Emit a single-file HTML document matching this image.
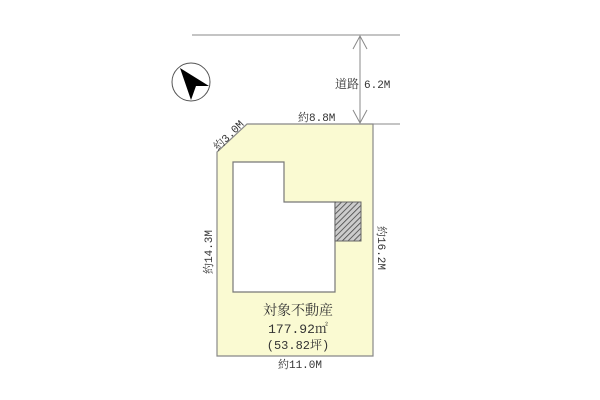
<!DOCTYPE html>
<html><head><meta charset="utf-8"><style>
html,body{margin:0;padding:0;background:#fff;width:600px;height:400px;overflow:hidden}
</style></head><body>
<svg width="600" height="400" xmlns="http://www.w3.org/2000/svg" font-family="'Liberation Mono','Noto Serif CJK SC',serif" fill="#333">
<defs><pattern id="h" width="4" height="4" patternUnits="userSpaceOnUse" patternTransform="rotate(45)"><rect width="4" height="4" fill="#ccc"/><line x1="0" y1="0" x2="0" y2="4" stroke="#444" stroke-width="1.6"/></pattern></defs>
<line x1="192" y1="35" x2="400" y2="35" stroke="#888" stroke-width="1"/>
<line x1="373" y1="124" x2="400" y2="124" stroke="#888" stroke-width="1"/>
<polygon points="247,124 373,124 373,356 217,356 217,152" fill="#fafad2" stroke="#888" stroke-width="1.2"/>
<polygon points="233,162 284,162 284,202 335,202 335,292 233,292" fill="#fff" stroke="#777" stroke-width="1.2"/>
<rect x="335" y="202" width="26" height="39" fill="url(#h)" stroke="#666" stroke-width="1"/>
<line x1="360" y1="36" x2="360" y2="123" stroke="#888" stroke-width="1"/>
<polyline points="353,49 360,36 367,49" fill="none" stroke="#888"/>
<polyline points="353,110 360,123 367,110" fill="none" stroke="#888"/>
<rect x="334" y="76" width="24" height="14" fill="#fff"/>
<text x="335" y="88" font-size="12" font-family="'Noto Serif CJK SC',serif">道路</text>
<text x="364" y="88" font-size="11">6.2M</text>
<circle cx="191" cy="82" r="19" fill="#fff" stroke="#555" stroke-width="1"/>
<polygon points="180,68 209,86 196,86 191,100" fill="#000"/>
<text x="298" y="121" font-size="11">約8.8M</text>
<text x="0" y="0" font-size="11" transform="translate(218,151) rotate(-45)">約3.0M</text>
<text x="0" y="0" font-size="11" text-anchor="middle" transform="translate(212,252) rotate(-90)">約14.3M</text>
<text x="0" y="0" font-size="11" text-anchor="middle" transform="translate(378,248) rotate(90)">約16.2M</text>
<text x="300" y="368" font-size="11" text-anchor="middle">約11.0M</text>
<text x="298" y="315" font-size="14" text-anchor="middle" font-family="'Noto Serif CJK SC',serif">対象不動産</text>
<text x="298" y="333" font-size="13" text-anchor="middle">177.92㎡</text>
<text x="298" y="349" font-size="12" text-anchor="middle">(53.82坪)</text>
</svg>
</body></html>
